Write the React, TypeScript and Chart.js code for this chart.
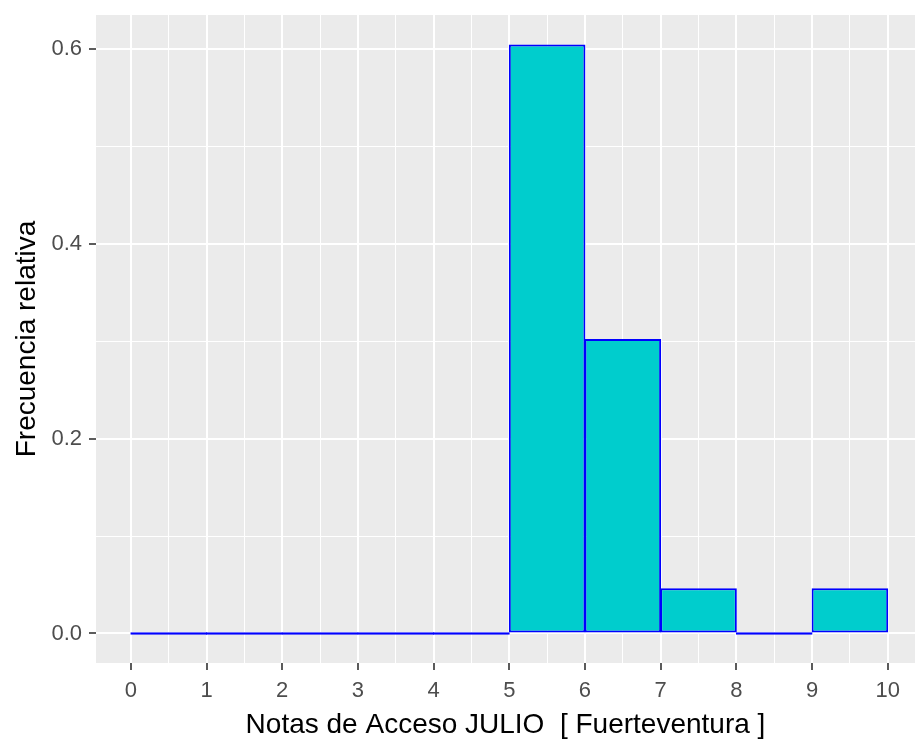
import React, { useEffect, useRef } from "react";
import { Chart, registerables } from "chart.js";

Chart.register(...registerables);

// ---- data ----
const binEdges = [0, 1, 2, 3, 4, 5, 6, 7, 8, 9, 10];
const relFreq = [0, 0, 0, 0, 0, 0.6047, 0.3023, 0.0465, 0, 0.0465];
const xTickValues = [0, 1, 2, 3, 4, 5, 6, 7, 8, 9, 10];
const yTickValues = [0, 0.2, 0.4, 0.6];
const yTickLabels = ["0.0", "0.2", "0.4", "0.6"];
const xTitle = "Notas de Acceso JULIO  [ Fuerteventura ]";
const yTitle = "Frecuencia relativa";

const FONT = "'Liberation Sans', Arial, Helvetica, sans-serif";

function withMinors(majors: number[]): number[] {
  const out: number[] = [];
  for (let i = 0; i < majors.length; i++) {
    out.push(majors[i]);
    if (i < majors.length - 1) out.push((majors[i] + majors[i + 1]) / 2);
  }
  return out;
}

function isMajor(v: number, majors: number[]) {
  return majors.some((m) => Math.abs(m - v) < 1e-9);
}

function tickIsMajor(c: any, majors: number[]) {
  if (!c || !c.tick || c.tick.value === undefined) return true;
  return isMajor(Number(c.tick.value), majors);
}

const panelBg = {
  id: "panelBg",
  beforeDraw(chart: any) {
    const { ctx, chartArea } = chart;
    ctx.save();
    ctx.fillStyle = "#EBEBEB";
    ctx.fillRect(chartArea.left, chartArea.top, chartArea.right - chartArea.left, chartArea.bottom - chartArea.top);
    ctx.restore();
  },
};

export default function App() {
  const ref = useRef<HTMLCanvasElement | null>(null);

  useEffect(() => {
    if (!ref.current) return;
    const bars = relFreq.map((v, i) => ({ x: (binEdges[i] + binEdges[i + 1]) / 2, y: v }));
    const xAll = withMinors(xTickValues);
    const yAll = withMinors(yTickValues);

    const chart = new Chart(ref.current, {
      type: "bar",
      data: {
        datasets: [
          {
            data: bars as any,
            backgroundColor: "#00CDCD",
            borderColor: "#0000FF",
            borderWidth: 2,
            borderSkipped: false,
            // bin width ~ 2 x the half-unit tick spacing Chart.js uses as sample size
            barPercentage: 2.025,
            categoryPercentage: 1,
            minBarLength: 2.5,
          },
        ],
      },
      options: {
        responsive: false,
        animation: false,
        layout: { padding: { top: 15, left: 0, right: 0, bottom: 0 } },
        plugins: { legend: { display: false }, tooltip: { enabled: false } },
        scales: {
          x: {
            type: "linear",
            offset: false,
            min: -0.46,
            max: 10.36,
            afterBuildTicks: (scale: any) => {
              scale.ticks = xAll.map((v) => ({ value: v }));
            },
            afterFit: (scale: any) => {
              scale.height = 80;
              scale.paddingLeft = 0;
              scale.paddingRight = 0;
            },
            border: { display: false },
            grid: {
              offset: false,
              color: "#FFFFFF",
              lineWidth: (c: any) => (tickIsMajor(c, xTickValues) ? 2 : 1),
              tickColor: (c: any) => (tickIsMajor(c, xTickValues) ? "#333333" : "rgba(0,0,0,0)"),
              tickWidth: 1.6,
              tickLength: 7,
              drawTicks: true,
            },
            ticks: {
              autoSkip: false,
              maxRotation: 0,
              padding: 8,
              color: "#4D4D4D",
              font: { family: FONT, size: 22 },
              callback: (v: any) => (isMajor(Number(v), xTickValues) ? String(v) : ""),
            },
            title: {
              display: true,
              text: xTitle,
              color: "#000000",
              font: { family: FONT, size: 28 },
              padding: { top: 0, bottom: 1 },
            },
          },
          y: {
            type: "linear",
            min: -0.0303,
            max: 0.635,
            afterBuildTicks: (scale: any) => {
              scale.ticks = yAll.map((v) => ({ value: v }));
            },
            afterFit: (scale: any) => {
              scale.width = 96;
              scale.paddingTop = 0;
              scale.paddingBottom = 0;
            },
            border: { display: false },
            grid: {
              color: "#FFFFFF",
              lineWidth: (c: any) => (tickIsMajor(c, yTickValues) ? 2 : 1),
              tickColor: (c: any) => (tickIsMajor(c, yTickValues) ? "#333333" : "rgba(0,0,0,0)"),
              tickWidth: 1.6,
              tickLength: 7,
              drawTicks: true,
            },
            ticks: {
              autoSkip: false,
              padding: 7,
              color: "#4D4D4D",
              font: { family: FONT, size: 22 },
              callback: (v: any) => {
                const idx = yTickValues.findIndex((m) => Math.abs(m - Number(v)) < 1e-9);
                return idx >= 0 ? yTickLabels[idx] : "";
              },
            },
            title: {
              display: true,
              text: yTitle,
              color: "#000000",
              font: { family: FONT, size: 28 },
              padding: { top: 10, bottom: 0 },
            },
          },
        },
      },
      plugins: [panelBg],
    });
    return () => chart.destroy();
  }, []);

  return (
    <div style={{ position: "fixed", left: 0, top: 0, width: 915, height: 743, background: "#FFFFFF" }}>
      <canvas ref={ref} width={915} height={743} style={{ display: "block" }} />
    </div>
  );
}
